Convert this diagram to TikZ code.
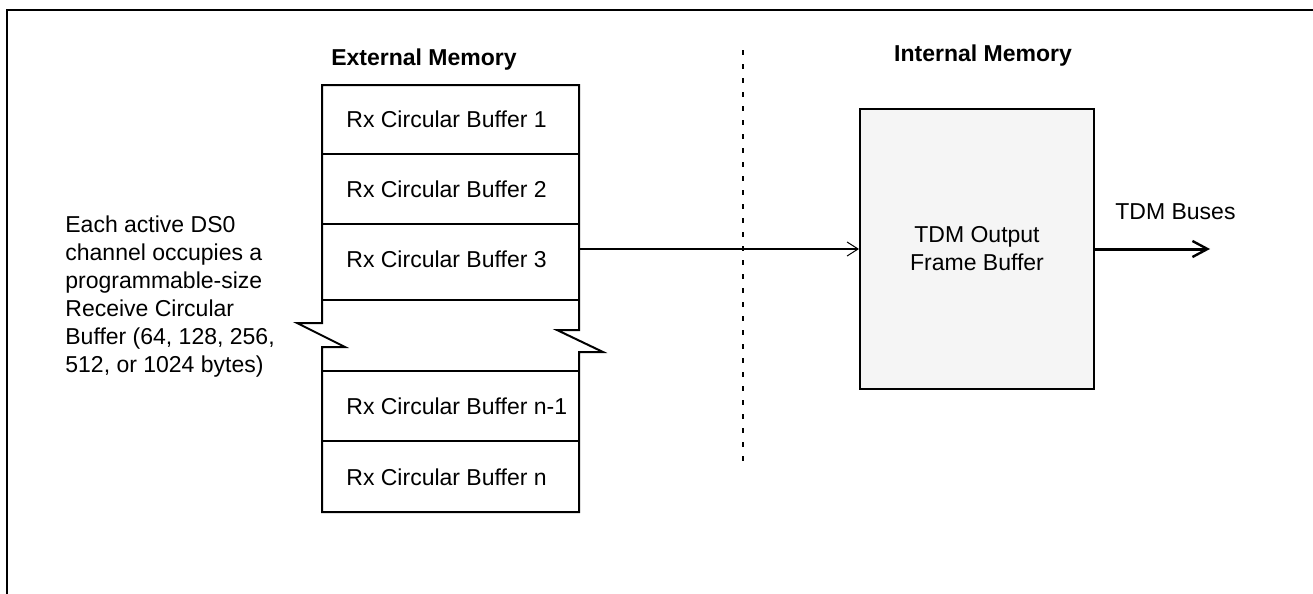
\documentclass[tikz,border=0pt]{standalone}
\usepackage{fontspec}
\setmainfont{Liberation Sans}
\usetikzlibrary{arrows.meta}
\definecolor{boxfill}{RGB}{245,245,245}
\begin{document}
\begin{tikzpicture}[x=0.5pt,y=-0.5pt,
  every node/.style={font=\fontsize{11.5pt}{14pt}\selectfont, inner sep=0pt},
  hdr/.style={font=\fontsize{11.5pt}{14pt}\selectfont\bfseries},
  rowtxt/.style={anchor=west},
  outline/.style={line width=1pt, line join=miter},
  divider/.style={line width=1pt, dash pattern=on 2.5pt off 4.5pt},
  thinarrow/.style={line width=1pt, -{Straight Barb[length=5.5pt,width=7pt,line width=0.5pt]}},
  thickarrow/.style={line width=1.5pt, -{Straight Barb[length=7.5pt,width=8pt,line width=1.2pt]}}
]
\useasboundingbox (0,0) rectangle (1313,594);
% frame
\draw[line width=1pt] (7,594) -- (7,10) -- (1313,10);

% headers
\node[hdr] (ext) at (424,60) {External Memory};
\node[hdr] (int) at (983,56) {Internal Memory};

% divider
\coordinate (dtop) at (743,50);
\coordinate (dbot) at (743,468);
\draw[divider] (dtop) -- (dbot);

% buffer stack outline with break
\draw[outline] (322,85) -- (579,85) -- (579,330) -- (557,330) -- (603,352) -- (579,352)
  -- (579,512) -- (322,512) -- (322,347) -- (345,347) -- (297,323) -- (322,323) -- cycle;
\draw[outline] (322,154) -- (579,154);
\draw[outline] (322,224) -- (579,224);
\draw[outline] (322,300) -- (579,300);
\draw[outline] (322,371) -- (579,371);
\draw[outline] (322,441) -- (579,441);

\node[rowtxt] (b1) at (346,119) {Rx Circular Buffer 1};
\node[rowtxt] (b2) at (346,189) {Rx Circular Buffer 2};
\node[rowtxt] (b3) at (346,259) {Rx Circular Buffer 3};
\node[rowtxt] (bn1) at (346,406) {Rx Circular Buffer n-1};
\node[rowtxt] (bn) at (346,477) {Rx Circular Buffer n};

% left description
\node[anchor=north west, align=left] (desc) at (65,215)
  {Each active DS0\\channel occupies a\\programmable-size\\Receive Circular\\Buffer (64, 128, 256,\\512, or 1024 bytes)};

% TDM frame buffer
\node[draw, line width=1pt, fill=boxfill, minimum width=117pt, minimum height=140pt,
  align=center] (tdm) at (977,249) {TDM Output\\Frame Buffer};

% arrows
\coordinate (b3e) at (579,249);
\draw[thinarrow] (b3e) -- (tdm.west);
\coordinate (busend) at (1210,249);
\draw[thickarrow] (tdm.east) -- (busend);
\node[anchor=west] (bus) at (1115,212) {TDM Buses};
\end{tikzpicture}
\end{document}
